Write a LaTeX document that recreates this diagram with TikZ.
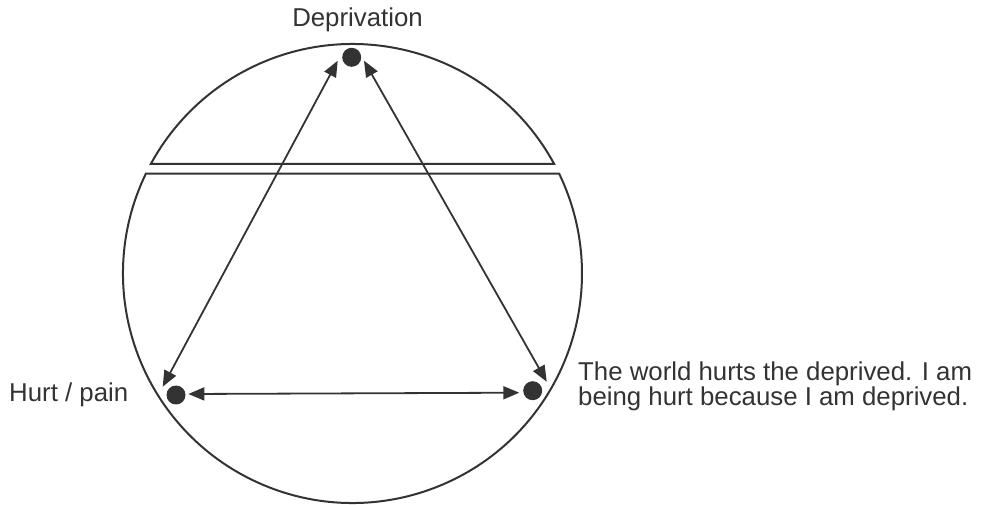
\documentclass[tikz,border=0pt]{standalone}
\usepackage{fontspec}
\setmainfont{Liberation Sans}
\usetikzlibrary{arrows.meta}
\definecolor{ink}{HTML}{333333}
\begin{document}
\begin{tikzpicture}[x=1pt,y=1pt,
  outline/.style={draw=ink,line width=2pt},
  dot/.style={circle,fill=ink,inner sep=0pt,minimum size=19pt},
  link/.style={draw=ink,line width=1.8pt,{Triangle[length=16pt,width=13pt]}-{Triangle[length=16pt,width=13pt]}},
  label/.style={inner sep=0pt,text=ink,font=\fontsize{25.8}{24}\selectfont}]
\useasboundingbox (0,0) rectangle (986,504);
% split circle
\coordinate (c) at (352.5,230.5);
\draw[outline] ([shift={(28.5:229.5)}]c) arc[start angle=28.5,end angle=151.5,radius=229.5] -- cycle;
\draw[outline] ([shift={(154.2:229.5)}]c) arc[start angle=154.2,end angle=385.8,radius=229.5] -- cycle;
% dots
\node[dot] (dep) at (351.7,446.7) {};
\node[dot] (hurt) at (176,109) {};
\node[dot] (world) at (532.7,113.3) {};
% arrow ends
\coordinate (a1) at (337.7,443.3);
\coordinate (a2) at (162.7,117.3);
\coordinate (b1) at (364,443.3);
\coordinate (b2) at (546.7,122.3);
\coordinate (c1) at (188.3,110);
\coordinate (c2) at (519.3,111.3);
\draw[link] (a1) -- (a2);
\draw[link] (b1) -- (b2);
\draw[link] (c1) -- (c2);
% labels
\node[label,anchor=base] (tdep) at (357.5,477) {Deprivation};
\node[label,anchor=base west] (thurt) at (9,102.3) {Hurt / pain};
\node[label,anchor=base west,align=left] (tworld) at (578,98.3) {The world hurts the deprived. I am\\being hurt because I am deprived.};
\end{tikzpicture}
\end{document}
